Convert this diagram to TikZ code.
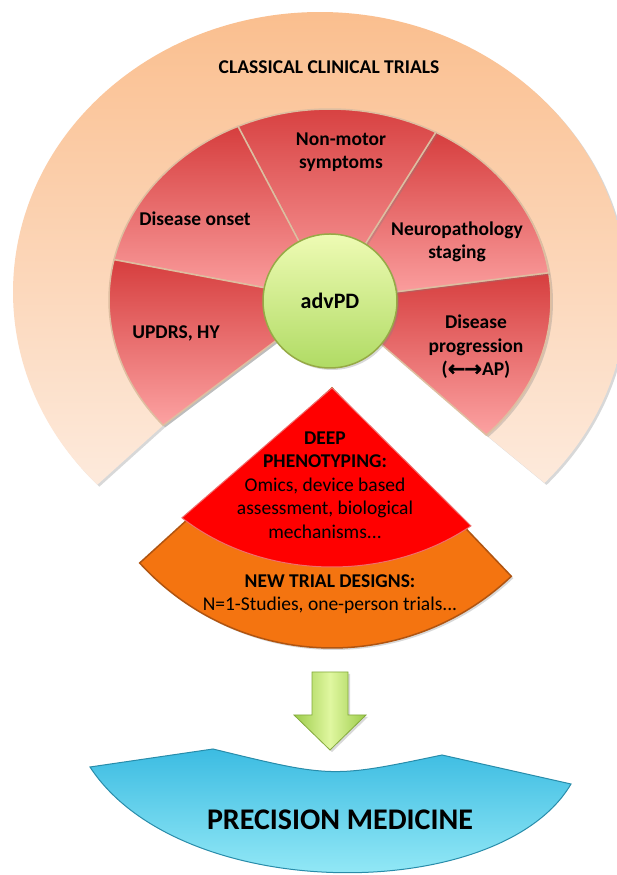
\documentclass[tikz,border=0pt]{standalone}
\usepackage{fontspec}
\setmainfont{Carlito}
\newfontfamily\arrowfont[BoldFeatures={FakeBold=1.5}]{DejaVu Sans}
\usetikzlibrary{calc,shadows}

\definecolor{peachtop}{RGB}{250,188,138}
\definecolor{peachbot}{RGB}{253,234,220}
\definecolor{secdark}{RGB}{214,62,62}
\definecolor{seclight}{RGB}{252,162,162}
\definecolor{secline}{RGB}{222,190,160}
\definecolor{hubtop}{RGB}{238,251,180}
\definecolor{hubbot}{RGB}{176,219,100}
\definecolor{hubline}{RGB}{150,170,70}
\definecolor{deepred}{RGB}{255,0,0}
\definecolor{deepline}{RGB}{240,110,110}
\definecolor{trialor}{RGB}{244,116,16}
\definecolor{trialline}{RGB}{176,84,16}
\definecolor{arredge}{RGB}{156,204,74}
\definecolor{arrmid}{RGB}{224,247,160}
\definecolor{arrline}{RGB}{132,170,62}
\definecolor{medtop}{RGB}{60,188,226}
\definecolor{medbot}{RGB}{168,243,251}
\definecolor{medline}{RGB}{40,140,170}

\begin{document}
\begin{tikzpicture}[x=1pt, y=1pt,
  soft/.style={drop shadow={shadow xshift=2pt, shadow yshift=-2pt, opacity=0.3}},
  sector/.style={soft, top color=secdark, bottom color=seclight, draw=secline, line width=1.5pt},
  lbl/.style={font=\fontsize{19.5}{23.5}\selectfont\bfseries, align=center, inner sep=0pt},
  txt/.style={font=\fontsize{19.5}{23.5}\selectfont, align=center, inner sep=0pt}]
  \useasboundingbox (0,0) rectangle (617,875);
  \fill[white] (0,0) rectangle (617,875);

  \coordinate (c) at (330,575);
  \coordinate (ring) at (320,583);
  \path[soft, top color=peachtop, bottom color=peachbot]
    (c) -- ($(c)+(221:221 and 191)$) -- ($(ring)+(223.5:307 and 280)$)
    arc[start angle=223.5, end angle=-43, x radius=307, y radius=280]
    -- ($(c)+(-45:221 and 191)$) -- cycle;

  \foreach \a in {0,...,4}
    \path[sector] (c) -- +({-45+53.2*\a}:221 and 191)
      arc[start angle={-45+53.2*\a}, delta angle=53.2, x radius=221, y radius=191] -- cycle;

  \node[soft, circle, minimum size=134pt, top color=hubtop, bottom color=hubbot,
    draw=hubline, line width=1.5pt, font=\fontsize{22}{26}\selectfont\bfseries] (hub) at (330,574) {advPD};

  \node[lbl] (classic) at (329,808) {CLASSICAL CLINICAL TRIALS};
  \node[lbl] (nonmotor) at (341,723) {Non-motor\\symptoms};
  \node[lbl] (onset) at (195,656) {Disease onset};
  \node[lbl] (neuro) at (457,633) {Neuropathology\\staging};
  \node[lbl] (updrs) at (176,542) {UPDRS, HY};
  \node[lbl] (progr) at (476,528) {Disease\\progression\\({\arrowfont\fontsize{21}{23.5}\selectfont ←\kern-1pt→}AP)};

  \coordinate (tip) at (332,487);
  \path[soft, fill=trialor, draw=trialline, line width=1.5pt]
    (tip) -- +(222.3:260) arc[start angle=222.3, end angle=313.6, radius=260] -- cycle;
  \path[fill=deepred, draw=deepline, line width=1pt]
    (tip) -- +(226.5:218 and 179) arc[start angle=226.5, end angle=309.6, x radius=218, y radius=179] -- cycle;
  \node[txt] (deep) at (325,390) {\textbf{DEEP}\\\textbf{PHENOTYPING:}\\Omics, device based\\assessment, biological\\mechanisms...};
  \node[txt] (trial) at (330,281) {\textbf{NEW TRIAL DESIGNS:}\\N=1-Studies, one-person trials...};

  \path[top color=medtop, bottom color=medbot, draw=medline, line width=1pt]
    (90,108) -- (213,126) .. controls (332,97) .. (442,120) -- (571,91)
    .. controls (500,-30) and (180,-30) .. (90,108) -- cycle;
  \node[font=\fontsize{30}{36}\selectfont\bfseries] (precision) at (340,55) {PRECISION MEDICINE};

  \coordinate (arrtop) at (330,203);
  \coordinate (arrtip) at (330,125);
  \path[soft, left color=arredge, right color=arredge, middle color=arrmid, draw=arrline, line width=0.8pt]
    ($(arrtop)+(-18,0)$) -- ($(arrtop)+(18,0)$) -- ($(arrtip)+(18,35)$) -- ($(arrtip)+(36,35)$)
    -- (arrtip) -- ($(arrtip)+(-36,35)$) -- ($(arrtip)+(-18,35)$) -- cycle;
\end{tikzpicture}
\end{document}
